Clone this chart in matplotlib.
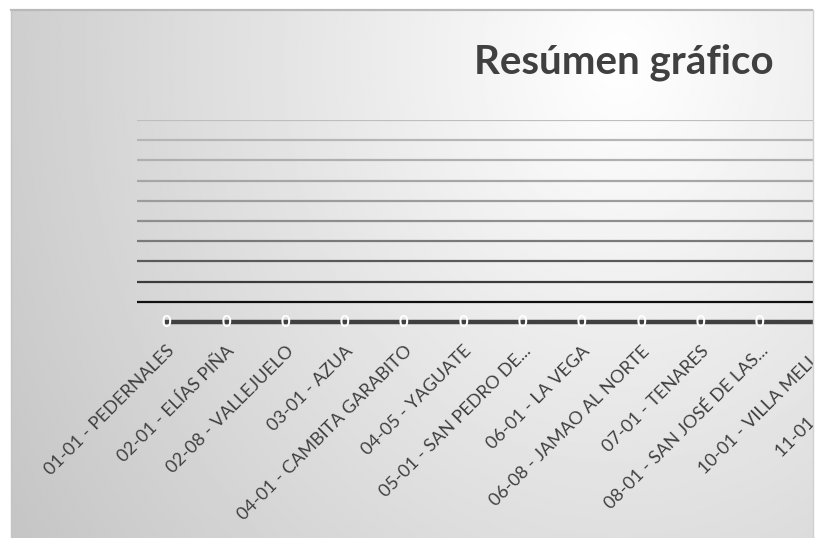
import numpy as np
import matplotlib.pyplot as plt
from matplotlib.patches import Rectangle
from matplotlib.lines import Line2D

W, H = 822, 538

# data
categories = [
    "01-01 - PEDERNALES", "02-01 - ELÍAS PIÑA", "02-08 - VALLEJUELO",
    "03-01 - AZUA", "04-01 - CAMBITA GARABITO", "04-05 - YAGUATE",
    "05-01 - SAN PEDRO DE...", "06-01 - LA VEGA", "06-08 - JAMAO AL NORTE",
    "07-01 - TENARES", "08-01 - SAN JOSÉ DE LAS...", "10-01 - VILLA MELLA",
    "11-01 - DAJABÓN",
]
values = [0, 0, 0, 0, 0, 0, 0, 0, 0, 0, 0, 0, 0]
yticks = [0.1, 0.2, 0.3, 0.4, 0.5, 0.6, 0.7, 0.8, 0.9, 1.0]
grid_colors = ["#111111", "#3c3c3c", "#5a5a5a", "#7a7a7a", "#8e8e8e",
               "#9c9c9c", "#a6a6a6", "#afafaf", "#b6b6b6", "#bebebe"]

plt.rcParams['font.family'] = ['Lato', 'DejaVu Sans']

fig = plt.figure(figsize=(W / 100, H / 100), dpi=100)
fig.patch.set_facecolor("white")

# background gradient of the chart area
bg = fig.add_axes([0, 0, 1, 1], zorder=-5)
bg.set_xlim(0, W)
bg.set_ylim(H, 0)
bg.axis("off")
xx, yy = np.meshgrid(np.linspace(11, 812, 300), np.linspace(10, 538, 200))
d = np.sqrt(((xx - 620) / 1.0) ** 2 + ((yy - 60) / 1.2) ** 2)
shade = np.clip(255 - d * 0.08, 198, 255) / 255.0
bg.imshow(shade, cmap="gray", vmin=0, vmax=1, extent=(11, 812, 538, 10),
          aspect="auto", interpolation="bilinear")
bg.add_line(Line2D([11, 812], [10, 10], color="#b9b9b9", lw=1.6))
bg.add_line(Line2D([11, 11], [10, 538], color="#c4c4c4", lw=1.0))

# main plot area (extends past the right edge, as in the cropped original)
left, right, top, bottom = 137, 908, 120, 322
ax = fig.add_axes([left / W, (H - bottom) / H, (right - left) / W, (bottom - top) / H])
ax.set_facecolor("none")
x = np.arange(len(categories))
ax.set_xlim(-0.5, len(categories) - 0.5)
ax.set_ylim(0, 1)
ax.set_yticks(yticks)
ax.yaxis.grid(True, linewidth=1.6)
ax.set_axisbelow(True)
for gl, c in zip(ax.get_ygridlines(), grid_colors):
    gl.set_color(c)
ax.tick_params(axis="y", left=False, labelleft=False)
for s in ax.spines.values():
    s.set_visible(False)

ax.plot(x, values, color="#404040", lw=3.2, clip_on=False, zorder=3)
for xi, v in zip(x, values):
    ax.text(xi, v, str(v), color="white", fontsize=12, fontweight="bold",
            ha="center", va="center", zorder=4, clip_on=False)

ax.set_xticks(x)
ax.set_xticklabels(categories, rotation=45, ha="right", va="top",
                   rotation_mode="anchor", fontsize=13, color="#404040")
ax.tick_params(axis="x", length=0, pad=15)

fig.text(624 / W, 1 - 62 / H, "Resúmen gráfico", fontsize=29, fontweight="bold",
         color="#404040", ha="center", va="center")

# the original chart is cut at its right edge
fig.add_artist(Rectangle((812.5 / W, 0), (W - 812.5) / W, 1, transform=fig.transFigure,
                         facecolor="white", edgecolor="none", zorder=20))
fig.add_artist(Line2D([812.5 / W, 812.5 / W], [0, 1 - 10 / H], transform=fig.transFigure,
                      color="#d0d0d0", lw=1.0, zorder=21))

fig.savefig("out.png", dpi=100)
